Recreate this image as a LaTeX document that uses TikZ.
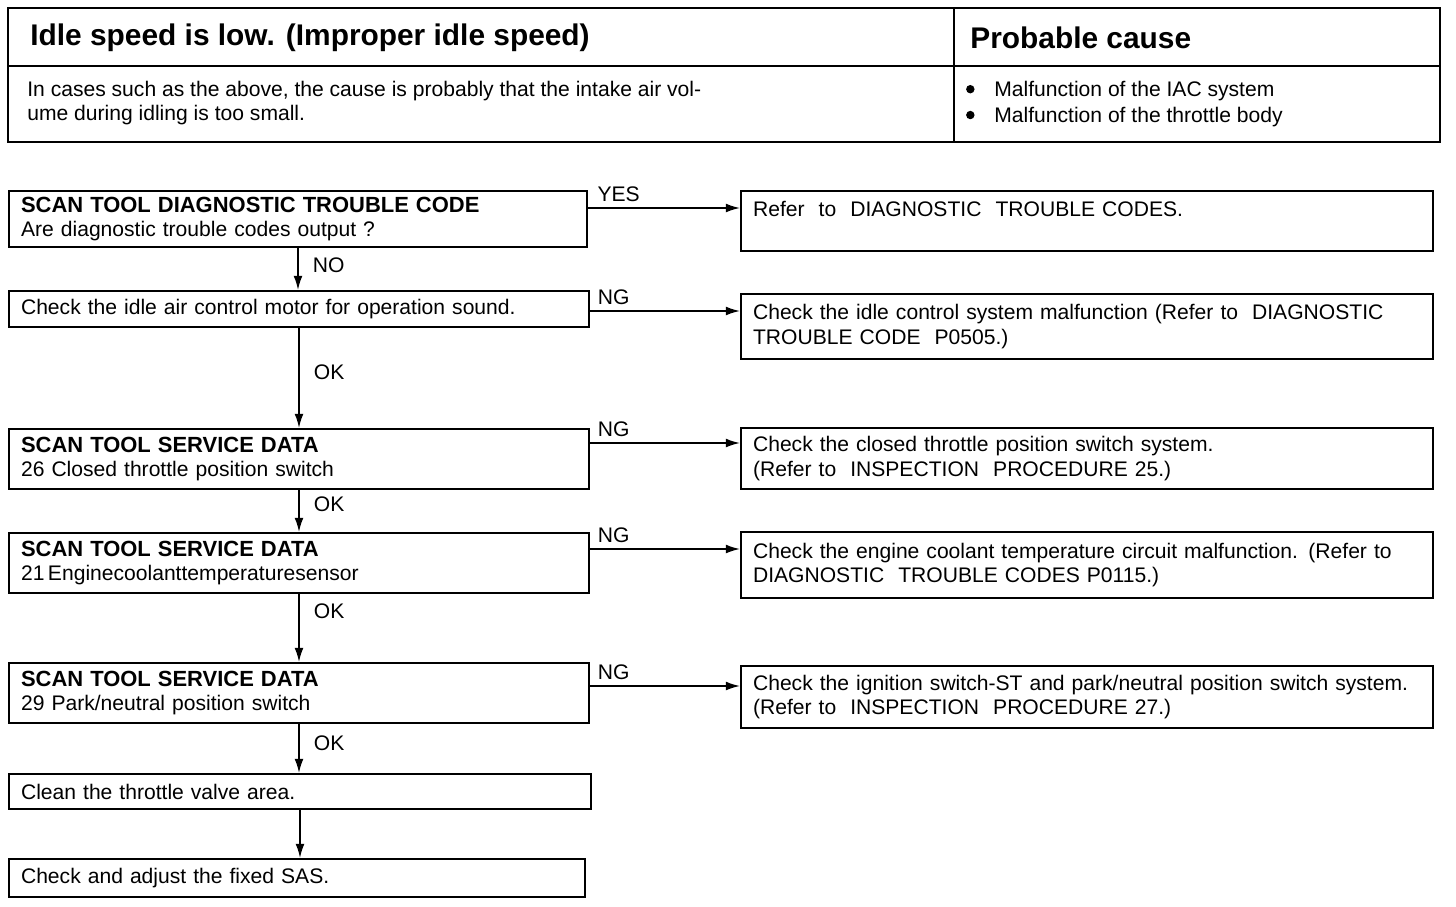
\documentclass[tikz,border=0pt]{standalone}
\usepackage{fontspec}
\setmainfont{Liberation Sans}
\usetikzlibrary{arrows.meta}

\newcommand{\boxhead}[1]{{\fontsize{12.5}{13.6}\selectfont\bfseries #1}}
\newcommand{\causedot}{\makebox[0.6cm][l]{\hspace{1pt}\raisebox{0.28ex}{\tikz\fill (0,0) circle (2.4pt);}}}

\begin{document}
\begin{tikzpicture}[x=0.02cm,y=-0.02cm,
  lbox/.style={draw,line width=1.2pt,anchor=north west,align=left,inner xsep=0.24cm,inner ysep=1pt,text width=11.12cm,font=\fontsize{12}{13.6}\selectfont},
  rbox/.style={lbox,text width=13.36cm,font=\fontsize{12}{14.2}\selectfont},
  arr/.style={line width=0.9pt,-{Latex[length=8pt,width=5pt]}},
  tag/.style={font=\fontsize{12}{14}\selectfont,inner sep=1pt}]
  \useasboundingbox (0,0) rectangle (1456,906);
  % header table
  \draw[line width=1.4pt] (8,8) rectangle (1440,142);
  \draw[line width=1.1pt] (8,66) -- (1440,66);
  \draw[line width=1.1pt] (954,8) -- (954,142);
  \node[anchor=west,inner sep=0,font=\fontsize{17}{20}\selectfont\bfseries] (title) at (30,38) {Idle speed is low. (Improper idle speed)};
  \node[anchor=west,inner sep=0,font=\fontsize{17}{20}\selectfont\bfseries] (cause) at (970,38) {Probable cause};
  \node[anchor=west,inner sep=0,align=left,font=\fontsize{12}{13.6}\selectfont] (remark) at (27,103) {In cases such as the above, the cause is probably that the intake air vol-\\ume during idling is too small.};
  \node[anchor=west,inner sep=0,align=left,font=\fontsize{12}{14.7}\selectfont] (causes) at (964,104) {\causedot Malfunction of the IAC system\\\causedot Malfunction of the throttle body};
  % left column
  \node[lbox,minimum height=1.12cm,text width=11.08cm] (scan) at (8,190) {\boxhead{SCAN TOOL DIAGNOSTIC TROUBLE CODE}\\Are diagnostic trouble codes output ?};
  \node[lbox,minimum height=0.72cm] (sound) at (8,290) {Check the idle air control motor for operation sound.};
  \node[lbox,minimum height=1.2cm] (ctps) at (8,428) {\boxhead{SCAN TOOL SERVICE DATA}\\26 Closed throttle position switch};
  \node[lbox,minimum height=1.2cm] (ects) at (8,532) {\boxhead{SCAN TOOL SERVICE DATA}\\21\,Enginecoolanttemperaturesensor};
  \node[lbox,minimum height=1.2cm] (pnp) at (8,662) {\boxhead{SCAN TOOL SERVICE DATA}\\29 Park/neutral position switch};
  \node[lbox,minimum height=0.7cm,text width=11.16cm] (clean) at (8,773) {Clean the throttle valve area.};
  \node[lbox,minimum height=0.76cm,text width=11.04cm] (sas) at (8,858) {Check and adjust the fixed SAS.};
  % right column
  \node[rbox,minimum height=1.2cm] (dtc) at (740,190) {Refer\ \ to\ \ DIAGNOSTIC\ \ TROUBLE CODES.\\\mbox{}};
  \node[rbox,minimum height=1.3cm] (iac) at (740,293) {Check the idle control system malfunction (Refer to\ \ DIAGNOSTIC\\TROUBLE CODE\ \ P0505.)};
  \node[rbox,minimum height=1.22cm] (tps) at (740,427) {Check the closed throttle position switch system.\\(Refer to\ \ INSPECTION\ \ PROCEDURE 25.)};
  \node[rbox,minimum height=1.32cm] (ect) at (740,531) {Check the engine coolant temperature circuit malfunction. (Refer to\\DIAGNOSTIC\ \ TROUBLE CODES P0115.)};
  \node[rbox,minimum height=1.24cm] (ign) at (740,665) {Check the ignition switch-ST and park/neutral position switch system.\\(Refer to\ \ INSPECTION\ \ PROCEDURE 27.)};
  % down the left column
  \draw[arr] (scan.south) -- (scan.south |- sound.north) node[tag,right,pos=.4,xshift=7pt] (no) {NO};
  \draw[arr] (sound.south) -- (sound.south |- ctps.north) node[tag,right,pos=.44,xshift=7pt] (ok1) {OK};
  \draw[arr] (ctps.south) -- (ctps.south |- ects.north) node[tag,right,pos=.34,xshift=7pt] (ok2) {OK};
  \draw[arr] (ects.south) -- (ects.south |- pnp.north) node[tag,right,pos=.25,xshift=7pt] (ok3) {OK};
  \draw[arr] (pnp.south) -- (pnp.south |- clean.north) node[tag,right,pos=.39,xshift=7pt] (ok4) {OK};
  \draw[arr] (clean.south) -- (clean.south |- sas.north);
  % across to the right column
  \draw[arr] ([yshift=-0.36cm]scan.north east) -- ([yshift=-0.36cm]scan.north east -| dtc.west) node[tag,above right,pos=0,xshift=4pt,yshift=2pt] (yes) {YES};
  \draw[arr] ([yshift=-0.42cm]sound.north east) -- ([yshift=-0.42cm]sound.north east -| iac.west) node[tag,above right,pos=0,xshift=3pt,yshift=2pt] (ng1) {NG};
  \draw[arr] ([yshift=-0.3cm]ctps.north east) -- ([yshift=-0.3cm]ctps.north east -| tps.west) node[tag,above right,pos=0,xshift=3pt,yshift=2pt] (ng2) {NG};
  \draw[arr] ([yshift=-0.34cm]ects.north east) -- ([yshift=-0.34cm]ects.north east -| ect.west) node[tag,above right,pos=0,xshift=3pt,yshift=2pt] (ng3) {NG};
  \draw[arr] ([yshift=-0.48cm]pnp.north east) -- ([yshift=-0.48cm]pnp.north east -| ign.west) node[tag,above right,pos=0,xshift=3pt,yshift=2pt] (ng4) {NG};
\end{tikzpicture}
\end{document}
